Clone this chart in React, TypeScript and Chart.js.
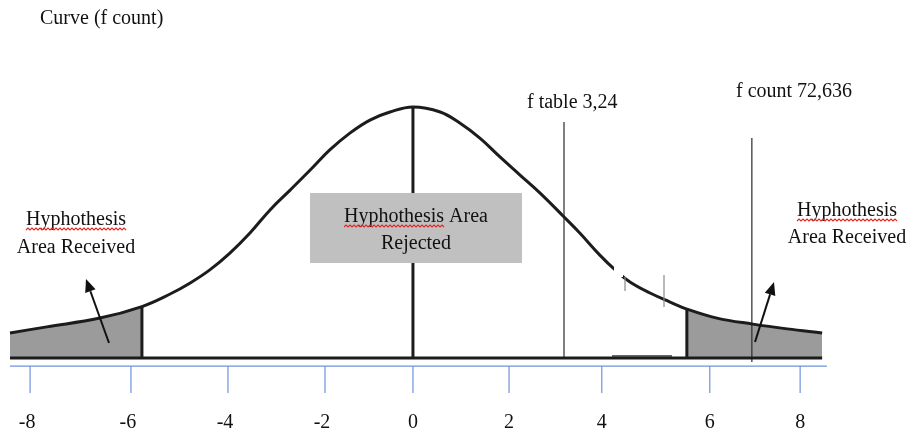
import React, { useEffect, useRef } from "react";
import { Chart, registerables } from "chart.js";

Chart.register(...registerables);

// Curve readings: x in axis units, y as a fraction of the peak height
const curveX = [-8.41, -7.64, -6.53, -5.65, -5.06, -4.64, -4.23, -3.81, -3.39, -2.97, -2.55, -2.13, -1.72, -1.3, -0.88, -0.46, 0.02, 0.59, 1.0, 1.42, 1.84, 2.26, 2.68, 3.16, 3.51, 3.93, 4.25, 4.56, 4.98, 5.4, 5.75, 6.38, 7.13, 7.85, 8.58];
const curveY = [0.1, 0.124, 0.159, 0.205, 0.255, 0.299, 0.351, 0.418, 0.498, 0.59, 0.669, 0.749, 0.829, 0.896, 0.948, 0.98, 1.0, 0.98, 0.936, 0.876, 0.801, 0.729, 0.657, 0.566, 0.498, 0.41, 0.351, 0.303, 0.259, 0.223, 0.195, 0.159, 0.135, 0.116, 0.1];

// Critical boundaries (shaded "received" tails)
const leftTailEnd = -5.65;
const rightTailStart = 5.75;
const leftTailTop = 0.205;
const rightTailTop = 0.195;
const peakX = 0.02;
const peakY = 1.0;

// Reference lines
const fTableX = 3.18;
const fTableTop = 0.94;
const fCountX = 7.11;
const fCountTop = 0.876;
const fCountBottom = -0.016;

// Bottom axis
const tickPositions = [-7.99, -5.88, -3.85, -1.82, 0.02, 2.03, 3.97, 6.23, 8.12];
const tickLabels = ["-8", "-6", "-4", "-2", "0", "2", "4", "6", "8"];
const axisLevel = -0.032;
const tickBottom = -0.139;

const titleText = "Curve (f count)";
const fTableText = "f table 3,24";
const fCountText = "f count 72,636";
const receivedLines = ["Hyphothesis", "Area Received"];
const rejectedLines = ["Hyphothesis Area", "Rejected"];

const X_MIN = -412 / 47.8;
const X_MAX = 496 / 47.8;
const Y_MIN = -78 / 251;
const Y_MAX = 358 / 251;

const pts = (xs: number[], ys: number[]) => xs.map((x, i) => ({ x, y: ys[i] }));

export default function App() {
  const ref = useRef<HTMLCanvasElement | null>(null);

  useEffect(() => {
    if (!ref.current) return;
    const curve = pts(curveX, curveY);
    const leftTail = curve.filter((p) => p.x <= leftTailEnd + 1e-9);
    const rightTail = curve.filter((p) => p.x >= rightTailStart - 1e-9);
    const xEnd0 = curveX[0];
    const xEnd1 = curveX[curveX.length - 1];

    const line = (data: any[], color: string, width: number, order = 1, extra: any = {}) => ({
      data,
      showLine: true,
      borderColor: color,
      borderWidth: width,
      pointRadius: 0,
      fill: false,
      tension: 0,
      order,
      ...extra,
    });

    const tickSegs: any[] = [];
    tickPositions.forEach((t) => {
      tickSegs.push({ x: t, y: axisLevel }, { x: t, y: tickBottom }, { x: t, y: null });
    });

    const serif = '"Liberation Serif", "Times New Roman", serif';

    const annotations = {
      id: "annotations",
      afterDatasetsDraw(chart: any) {
        const ctx = chart.ctx as CanvasRenderingContext2D;
        const xs = chart.scales.x;
        const ys = chart.scales.y;
        ctx.save();

        // scan artifacts near the right slope
        ctx.fillStyle = "#ffffff";
        ctx.fillRect(612, 350, 60, 6);
        ctx.fillRect(614, 265, 9, 12);
        ctx.strokeStyle = "#8a8a8a";
        ctx.lineWidth = 1.2;
        ctx.beginPath();
        ctx.moveTo(625, 277); ctx.lineTo(625, 291);
        ctx.moveTo(664, 275); ctx.lineTo(664, 307);
        ctx.stroke();
        ctx.strokeStyle = "#333";
        ctx.lineWidth = 1.5;
        ctx.beginPath();
        ctx.moveTo(612, 356); ctx.lineTo(672, 356);
        ctx.stroke();

        // Rejected box
        ctx.fillStyle = "#c0c0c0";
        ctx.fillRect(310, 193, 212, 70);

        ctx.fillStyle = "#111";
        ctx.font = `20px ${serif}`;
        ctx.textBaseline = "alphabetic";

        const squiggle = (x0: number, x1: number, y: number) => {
          ctx.save();
          ctx.strokeStyle = "#e02828";
          ctx.lineWidth = 1.1;
          ctx.beginPath();
          let up = true;
          ctx.moveTo(x0, y + 1);
          for (let x = x0 + 2; x <= x1; x += 2) {
            ctx.lineTo(x, up ? y - 1 : y + 1);
            up = !up;
          }
          ctx.stroke();
          ctx.restore();
        };

        const centered = (text: string, cx: number, by: number, wavyWord?: string) => {
          ctx.textAlign = "center";
          ctx.fillText(text, cx, by);
          if (wavyWord) {
            const w = ctx.measureText(text).width;
            const ww = ctx.measureText(wavyWord).width;
            const left = cx - w / 2;
            squiggle(left, left + ww, by + 4);
          }
        };

        ctx.textAlign = "left";
        ctx.fillText(titleText, 40, 24);
        ctx.fillText(fTableText, 527, 108);
        ctx.fillText(fCountText, 736, 97);

        centered(receivedLines[0], 76, 225, "Hyphothesis");
        centered(receivedLines[1], 76, 253);
        centered(receivedLines[0], 847, 216, "Hyphothesis");
        centered(receivedLines[1], 847, 243);
        centered(rejectedLines[0], 416, 222, "Hyphothesis");
        centered(rejectedLines[1], 416, 249);

        // arrows
        const arrow = (x0: number, y0: number, x1: number, y1: number) => {
          const a = Math.atan2(y1 - y0, x1 - x0);
          const hl = 13, hw = 5.5;
          const bx = x1 - hl * Math.cos(a), by = y1 - hl * Math.sin(a);
          ctx.strokeStyle = "#111";
          ctx.lineWidth = 2;
          ctx.beginPath();
          ctx.moveTo(x0, y0);
          ctx.lineTo(bx, by);
          ctx.stroke();
          ctx.fillStyle = "#111";
          ctx.beginPath();
          ctx.moveTo(x1, y1);
          ctx.lineTo(bx + hw * Math.sin(a), by - hw * Math.cos(a));
          ctx.lineTo(bx - hw * Math.sin(a), by + hw * Math.cos(a));
          ctx.closePath();
          ctx.fill();
        };
        arrow(109, 343, 86, 279);
        arrow(755, 342, 774, 282);

        // tick labels
        ctx.fillStyle = "#111";
        ctx.textAlign = "center";
        ctx.textBaseline = "middle";
        tickPositions.forEach((t, i) => {
          const neg = tickLabels[i].startsWith("-") ? -3 : 0;
          ctx.fillText(tickLabels[i], xs.getPixelForValue(t) + neg, ys.getPixelForValue(tickBottom) + 30);
        });

        ctx.restore();
      },
    };

    const smooth = { tension: 0.4 };

    const chart = new Chart(ref.current, {
      type: "scatter",
      data: {
        datasets: [
          line(curve, "#1c1c1c", 3, 0, smooth),
          line([{ x: xEnd0, y: 0 }, { x: xEnd1, y: 0 }], "#1c1c1c", 3, 1),
          line([{ x: leftTailEnd, y: 0 }, { x: leftTailEnd, y: leftTailTop }], "#1c1c1c", 3, 1),
          line([{ x: peakX, y: 0 }, { x: peakX, y: peakY }], "#1c1c1c", 3, 1),
          line([{ x: rightTailStart, y: 0 }, { x: rightTailStart, y: rightTailTop }], "#1c1c1c", 3, 1),
          line([{ x: fTableX, y: 0 }, { x: fTableX, y: fTableTop }], "#2a2a2a", 1.2, 1),
          line([{ x: fCountX, y: fCountBottom }, { x: fCountX, y: fCountTop }], "#2a2a2a", 1.2, 1),
          line([{ x: xEnd0, y: axisLevel }, { x: 8.68, y: axisLevel }], "#6f93dc", 1.2, 2),
          line(tickSegs, "#6f93dc", 1.2, 2, { spanGaps: false }),
          line(leftTail, "rgba(0,0,0,0)", 0, 10, { fill: "origin", backgroundColor: "#9b9b9b", ...smooth }),
          line(rightTail, "rgba(0,0,0,0)", 0, 10, { fill: "origin", backgroundColor: "#9b9b9b", ...smooth }),
        ],
      },
      options: {
        responsive: false,
        animation: false,
        events: [],
        layout: { padding: 0 },
        plugins: { legend: { display: false }, tooltip: { enabled: false } },
        scales: {
          x: { type: "linear", min: X_MIN, max: X_MAX, display: false },
          y: { type: "linear", min: Y_MIN, max: Y_MAX, display: false },
        },
      },
      plugins: [annotations],
    });
    return () => chart.destroy();
  }, []);

  return (
    <div style={{ position: "fixed", left: 0, top: 0, width: 908, height: 436, background: "#fff" }}>
      <canvas ref={ref} width={908} height={436} style={{ width: 908, height: 436, display: "block" }} />
    </div>
  );
}
